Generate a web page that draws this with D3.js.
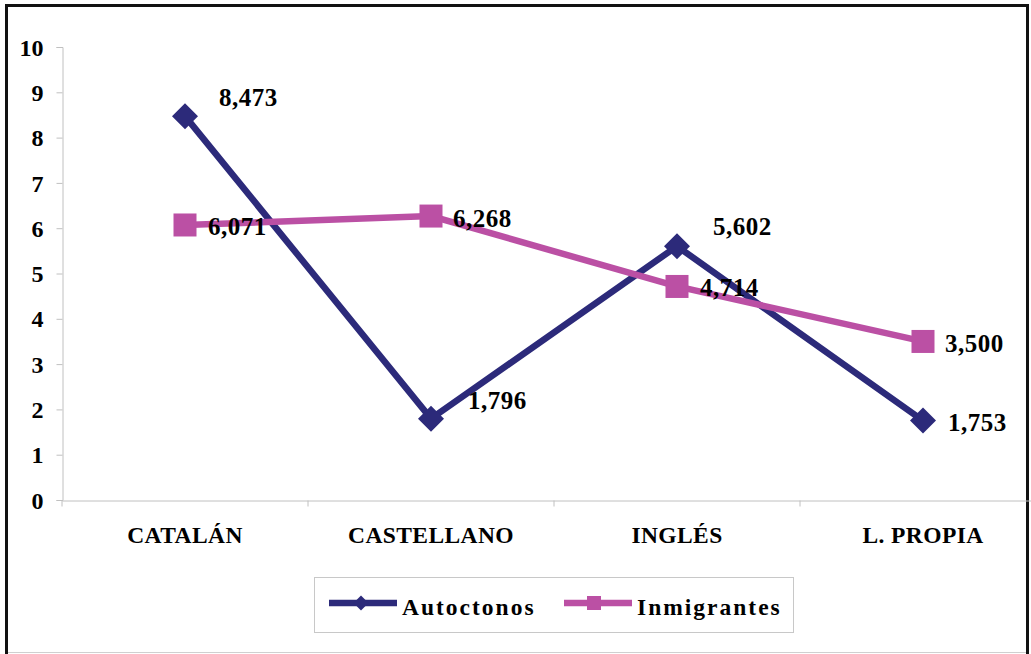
<!DOCTYPE html>
<html><head><meta charset="utf-8">
<script src="https://cdn.jsdelivr.net/npm/d3@7/dist/d3.min.js"></script>
<style>
html,body{margin:0;padding:0;background:#fff;}
svg{display:block;}
text{font-family:"Liberation Serif","Times New Roman",serif;font-weight:bold;fill:#000;}
</style></head>
<body>
<svg id="chart" width="1031" height="654"></svg>
<script>
const categories = ["CATALÁN", "CASTELLANO", "INGLÉS", "L. PROPIA"];
const autoctonos = [8.473, 1.796, 5.602, 1.753];
const inmigrantes = [6.071, 6.268, 4.714, 3.500];
const autoctonosLabels = ["8,473", "1,796", "5,602", "1,753"];
const inmigrantesLabels = ["6,071", "6,268", "4,714", "3,500"];
const yTicks = [0,1,2,3,4,5,6,7,8,9,10];
const seriesNames = ["Autoctonos", "Inmigrantes"];

const svg = d3.select("#chart");
const x = d3.scaleBand().domain(categories).range([62, 1046]).padding(0);
const y = d3.scaleLinear().domain([0, 10]).range([500, 47]);
const axisColor = "#c0c0c0";
const colA = "#2c2a7a", colI = "#bb50a4";

// frame
svg.append("rect").attr("x", 6.5).attr("y", 5.5).attr("width", 1021).attr("height", 680)
  .attr("fill", "none").attr("stroke", "#111").attr("stroke-width", 3);
svg.append("line").attr("x1", 8).attr("x2", 1026).attr("y1", 652.5).attr("y2", 652.5)
  .attr("stroke", "#d0d0d0").attr("stroke-width", 1);

// y axis
const yAxis = d3.axisLeft(y).tickValues(yTicks).tickSize(6).tickPadding(13).tickFormat(d3.format("d"));
const gy = svg.append("g").attr("transform", "translate(62.5,0)").call(yAxis);
gy.select(".domain").attr("stroke", axisColor);
gy.selectAll(".tick line").attr("stroke", axisColor);
gy.selectAll(".tick text").attr("font-size", 24).attr("font-family", "Liberation Serif").attr("font-weight", "bold").attr("fill", "#000").attr("dy", "0.34em");

// x axis
const xAxis = d3.axisBottom(x).tickSize(0).tickPadding(0);
const gx = svg.append("g").attr("transform", "translate(0,500.5)").call(xAxis);
gx.select(".domain").attr("stroke", axisColor);
gx.selectAll(".tick text").attr("font-size", 23.5).attr("font-family", "Liberation Serif").attr("font-weight", "bold").attr("fill", "#000").attr("y", 42).attr("dy", 0).attr("letter-spacing", 0.4);
gx.selectAll(".tick").each(function(d){
  d3.select(this).append("line").attr("x1", -x.bandwidth()/2).attr("x2", -x.bandwidth()/2)
    .attr("y1", 0).attr("y2", 6).attr("stroke", axisColor);
});

const cx = d => x(d) + x.bandwidth()/2;
const line = d3.line().x(d => cx(d.c)).y(d => y(d.v));
const dataA = categories.map((c,i) => ({c, v: autoctonos[i], l: autoctonosLabels[i]}));
const dataI = categories.map((c,i) => ({c, v: inmigrantes[i], l: inmigrantesLabels[i]}));

svg.append("path").datum(dataA).attr("d", line).attr("fill", "none").attr("stroke", colA).attr("stroke-width", 6.5).attr("stroke-linejoin", "miter");
svg.append("path").datum(dataI).attr("d", line).attr("fill", "none").attr("stroke", colI).attr("stroke-width", 6.5).attr("stroke-linejoin", "miter");

const diamond = s => `M0,${-s}L${s},0L0,${s}L${-s},0Z`;
svg.selectAll(".mA").data(dataA).join("path").attr("class","mA")
  .attr("transform", d => `translate(${cx(d.c)},${y(d.v)})`).attr("d", diamond(13)).attr("fill", colA);
svg.selectAll(".mI").data(dataI).join("rect").attr("class","mI")
  .attr("x", d => cx(d.c) - 11.5).attr("y", d => y(d.v) - 11.5).attr("width", 23).attr("height", 23).attr("fill", colI);

// data labels (layout nudges)
const nudgeA = [[34,-10],[37,-10],[36,-11],[25,10]];
const nudgeI = [[23,10],[22,11],[23,10],[22,11]];
svg.selectAll(".lA").data(dataA).join("text").attr("class","lA")
  .attr("x", (d,i) => cx(d.c) + nudgeA[i][0]).attr("y", (d,i) => y(d.v) + nudgeA[i][1])
  .attr("font-size", 25).attr("letter-spacing", 0.5).text(d => d.l);
svg.selectAll(".lI").data(dataI).join("text").attr("class","lI")
  .attr("x", (d,i) => cx(d.c) + nudgeI[i][0]).attr("y", (d,i) => y(d.v) + nudgeI[i][1])
  .attr("font-size", 25).attr("letter-spacing", 0.5).text(d => d.l);

// legend
const lg = svg.append("g");
lg.append("rect").attr("x", 314.5).attr("y", 577.5).attr("width", 479).attr("height", 55)
  .attr("fill", "#fff").attr("stroke", "#c8c8c8");
const legendItems = [
  {name: seriesNames[0], col: colA, x0: 329, tx: 402, shape: "d"},
  {name: seriesNames[1], col: colI, x0: 564, tx: 637, shape: "s"}
];
legendItems.forEach(it => {
  lg.append("line").attr("x1", it.x0).attr("x2", it.x0 + 68).attr("y1", 603).attr("y2", 603)
    .attr("stroke", it.col).attr("stroke-width", 6.5);
  if (it.shape === "d") {
    lg.append("path").attr("transform", `translate(${it.x0+32},603)`).attr("d", diamond(7.5)).attr("fill", it.col);
  } else {
    lg.append("rect").attr("x", it.x0 + 30 - 7).attr("y", 596).attr("width", 14).attr("height", 14).attr("fill", it.col);
  }
  lg.append("text").attr("x", it.tx).attr("y", 615).attr("font-size", 23.5).attr("letter-spacing", 2.0).text(it.name);
});
</script>
</body></html>
